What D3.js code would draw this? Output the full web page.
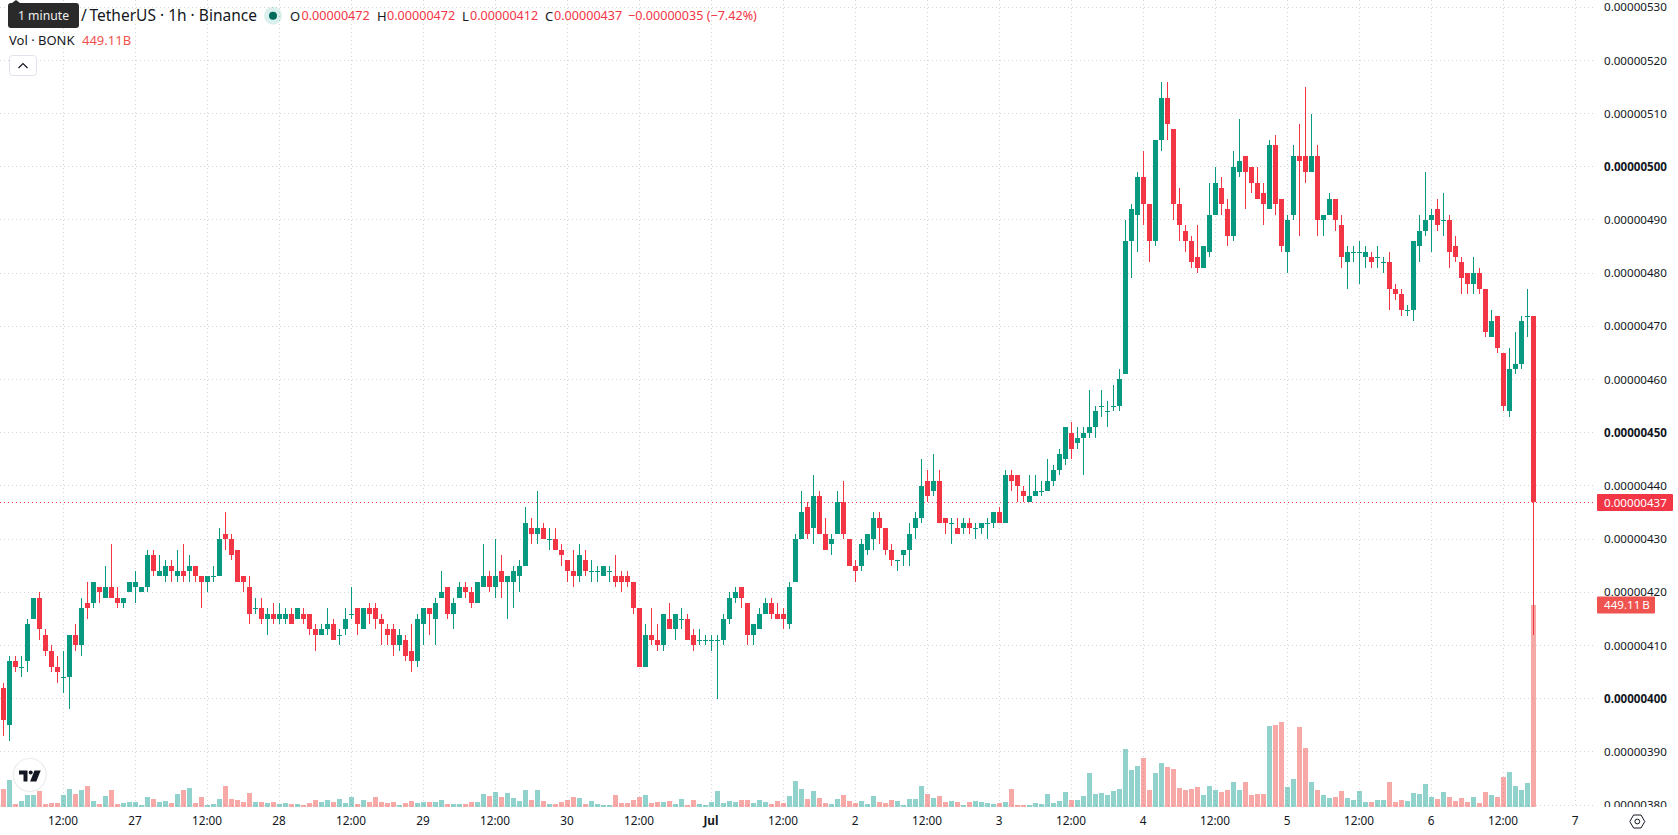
<!DOCTYPE html>
<html>
<head>
<meta charset="utf-8">
<title>BONK / TetherUS 1h</title>
<script src="https://cdn.jsdelivr.net/npm/d3@7/dist/d3.min.js"></script>
<style>
  html, body { margin: 0; padding: 0; background: #fff; overflow: hidden; }
  svg { display: block; }
  text { font-family: "Noto Sans", "Open Sans", sans-serif; }
</style>
</head>
<body>
<svg id="chart" width="1678" height="835"></svg>
<script>
// Hourly candles, prices in units of 0.00000001, volume in billions of BONK.
const opens = [402,395,407,406,407,415,419,412,409,406,404,404,412,410,418,418,421,419,421,419,418,420,421,420,421,427,423,423,425,423,424,424,425,423,422,423,423,431,430,428,423,421,417,417,415,416,415,415,416,415,416,416,413,412,413,414,412,413,416,417,413,417,417,415,413,413,410,411,409,407,414,417,415,419,421,416,419,421,420,418,421,423,421,424,422,422,423,425,432,431,432,430,430,428,426,424,423,426,424,424,423,424,423,423,423,422,417,406,412,411,410,415,413,415,415,412,411,411,411,411,411,415,419,421,418,412,413,416,418,416,416,414,422,430,436,432,438,431,429,431,437,430,425,425,428,430,434,432,428,426,427,428,432,434,441,439,441,434,433,432,432,433,432,432,433,433,435,433,442,442,439,437,438,439,439,441,443,445,450,448,449,450,451,455,454,455,455,461,486,491,498,493,486,505,513,507,493,488,486,483,481,484,491,496,492,487,499,502,500,497,495,492,504,494,484,491,502,502,499,502,490,491,494,489,482,484,484,483,483,483,482,482,477,476,473,473,485,488,490,492,490,490,485,482,480,478,480,477,468,472,465,454,462,463,472,472];
const highs = [403,408,408,408,415,419,420,413,410,408,409,412,414,419,422,422,421,425,429,421,419,422,424,421,428,428,427,426,426,428,429,427,425,423,423,425,432,435,431,428,423,423,419,419,417,418,418,417,417,417,417,416,414,414,417,415,413,417,421,417,417,418,418,416,414,414,413,412,414,416,417,417,419,424,421,419,422,422,421,422,429,424,430,427,423,425,426,436,434,439,433,432,432,429,426,428,429,428,426,425,425,425,427,424,424,422,417,414,417,414,416,418,416,417,416,413,413,412,412,412,416,420,421,421,418,414,417,419,419,418,417,422,431,439,437,442,439,434,431,439,441,430,426,430,431,435,435,432,429,426,428,433,435,445,443,446,443,434,434,434,434,434,433,433,434,435,436,443,443,442,440,442,442,441,445,444,447,451,452,451,451,458,455,458,456,459,462,490,493,499,503,493,505,516,516,507,496,489,487,489,485,497,500,498,494,503,509,502,500,500,497,505,506,494,491,504,508,515,510,504,491,495,494,491,485,485,486,485,484,485,483,484,478,477,474,486,491,499,492,494,495,491,487,483,480,483,481,477,473,472,465,466,469,472,477,472];
const lows = [393,392,405,404,405,415,411,408,405,403,401,398,409,408,415,417,418,419,419,417,417,420,418,420,420,423,423,422,422,422,422,422,422,417,420,422,423,428,426,422,420,414,416,414,412,414,414,414,414,415,414,412,409,412,412,411,410,412,415,412,413,414,413,410,410,408,409,407,405,406,410,412,410,419,415,413,419,419,417,418,421,420,419,419,415,417,420,425,429,429,430,428,428,425,422,421,422,423,422,422,423,422,421,420,421,416,406,406,410,409,409,413,411,413,411,409,410,410,409,400,410,414,418,417,410,410,413,416,415,415,413,413,422,430,430,429,431,428,427,431,430,425,422,424,427,428,429,427,425,424,425,425,430,433,437,438,433,431,429,431,431,431,430,431,430,432,433,433,439,437,437,437,438,438,439,440,442,444,445,447,442,449,449,453,451,454,454,461,479,484,489,482,485,503,505,490,486,484,481,480,481,483,491,491,485,486,498,492,495,494,489,492,491,484,480,490,487,497,499,487,487,491,488,481,477,482,478,481,481,481,480,473,475,472,472,471,482,487,484,488,487,481,482,476,476,476,476,468,468,465,454,453,461,462,468,412];
const closes = [396,407,406,406,414,419,413,409,406,405,404,412,410,417,417,422,420,421,419,418,419,422,422,421,427,424,424,425,424,424,423,425,423,422,423,423,430,430,427,422,422,416,417,415,416,415,416,416,414,417,415,413,412,413,414,411,412,415,416,414,417,416,415,414,412,410,412,408,407,415,417,416,418,420,416,418,421,420,418,422,423,421,423,422,423,424,425,433,431,432,430,430,428,427,424,423,427,424,424,424,425,424,422,422,422,417,406,412,411,410,416,413,416,415,411,410,411,411,411,411,415,419,420,419,412,414,416,418,416,415,415,421,430,435,431,438,431,428,430,437,431,425,424,429,431,434,432,428,426,426,428,431,434,440,438,441,433,433,433,431,433,432,432,433,433,435,433,442,441,440,438,438,439,439,441,443,446,451,447,449,450,451,454,455,454,455,460,486,492,498,493,486,505,513,508,493,489,486,482,481,485,491,497,493,487,500,501,499,497,494,493,504,493,485,490,502,501,499,502,490,491,494,490,483,484,484,484,484,482,483,482,477,476,473,473,486,488,490,491,489,490,484,483,479,478,480,477,469,471,466,455,462,463,471,472,437];
const volumes = [40,60,6.7,13.3,26.7,26.7,35.6,6.7,8.9,8.9,26.7,40,28.9,37.8,46.7,13.3,6.7,24.5,37.8,6.7,8.9,11.1,11.1,4.4,22.2,17.8,11.1,13.3,8.9,28.9,37.8,42.2,8.9,22.2,4.4,6.7,17.8,46.7,17.8,15.6,11.1,31.1,11.1,11.1,8.9,11.1,6.7,8.9,6.7,6.7,4.4,8.9,15.6,11.1,15.6,11.1,17.8,8.9,22.2,6.7,15.6,11.1,22.2,11.1,8.9,11.1,4.4,8.9,13.3,8.9,11.1,11.1,11.1,15.6,6.7,6.7,6.7,6.7,11.1,11.1,28.9,24.5,33.3,22.2,31.1,20,13.3,37.8,15.6,37.8,13.3,6.7,6.7,11.1,15.6,22.2,20,6.7,13.3,6.7,4.4,4.4,26.7,8.9,8.9,15.6,22.2,26.7,8.9,11.1,11.1,13.3,6.7,17.8,4.4,15.6,6.7,4.4,11.1,35.6,8.9,13.3,11.1,15.6,15.6,8.9,15.6,11.1,6.7,13.3,8.9,24.5,57.8,40,17.8,35.6,20,8.9,6.7,17.8,26.7,13.3,8.9,13.3,6.7,24.5,11.1,8.9,15.6,13.3,4.4,17.8,17.8,46.7,28.9,20,24.5,11.1,13.3,11.1,4.4,11.1,13.3,11.1,8.9,6.7,8.9,11.1,40,4.4,4.4,4.4,8.9,6.7,28.9,8.9,13.3,33.3,15.6,15.6,24.5,75.6,28.9,31.1,26.7,35.6,40,129,82.3,91.2,109,37.8,75.6,97.9,89,84.5,42.2,37.8,40,44.5,26.7,46.7,37.8,33.3,37.8,55.6,37.8,55.6,26.7,28.9,28.9,180.1,182.4,189,44.5,62.3,178,131.2,55.6,37.8,26.7,20,22.2,35.6,20,15.6,35.6,11.1,11.1,15.6,15.6,55.6,11.1,15.6,13.3,31.1,28.9,51,22.2,17.8,33.3,22.2,13.3,20,11.1,22.2,8.9,33.3,26.7,22.2,66.7,77.8,46.7,37.8,53.4,449.11];

const priceTicks = [380,390,400,410,420,430,440,450,460,470,480,490,500,510,520,530];
const boldPriceTicks = [400,450,500];
const timeTickLabels = ["12:00","27","12:00","28","12:00","29","12:00","30","12:00","Jul","12:00","2","12:00","3","12:00","4","12:00","5","12:00","6","12:00","7"];

const UP = "#089981", DOWN = "#F23645";
const UP_VOL = "#26a69a", DOWN_VOL = "#EF5350";
const GRID = "#d4d4d4", TEXT = "#131722";

const firstHour = new Date(Date.UTC(2024, 5, 26, 2));
const hourAt = i => d3.utcHour.offset(firstHour, i);
const lastIdx = closes.length - 1;
const firstTick = new Date(Date.UTC(2024, 5, 26, 12));
const timeTicks = timeTickLabels.map((_, k) => d3.utcHour.offset(firstTick, k * 12));

const x = d3.scaleUtc().domain([hourAt(0), hourAt(lastIdx)]).range([3.5, 1533.5]);
const y = d3.scaleLinear().domain([380, 500]).range([805, 166.7]);
const yVol = d3.scaleLinear().domain([0, 449.11]).range([807, 605]);

const fmtPrice = p => (p / 1e8).toFixed(8);
const svg = d3.select("#chart");
const defs = svg.append("defs");
defs.append("clipPath").attr("id", "plot-h").append("rect")
  .attr("x", 0).attr("y", 0).attr("width", 1678).attr("height", 807);

// Dotted grid
const grid = svg.append("g").attr("stroke", GRID).attr("stroke-dasharray", "1 3").attr("shape-rendering", "crispEdges");
grid.selectAll("line.h").data(priceTicks).join("line").attr("class", "h")
  .attr("x1", 0).attr("x2", 1593)
  .attr("y1", d => Math.floor(y(d)) + 0.5).attr("y2", d => Math.floor(y(d)) + 0.5);
grid.selectAll("line.v").data(timeTicks).join("line").attr("class", "v")
  .attr("y1", 0).attr("y2", 807)
  .attr("x1", d => Math.floor(x(d)) + 0.5).attr("x2", d => Math.floor(x(d)) + 0.5);

const idx = d3.range(closes.length);
const isUp = i => closes[i] >= opens[i];

// Volume histogram along the bottom of the pane
svg.append("g").attr("shape-rendering", "crispEdges").selectAll("rect").data(idx).join("rect")
  .attr("x", i => Math.floor(x(hourAt(i))) - 2)
  .attr("width", 5)
  .attr("y", i => Math.round(yVol(volumes[i])))
  .attr("height", i => 807 - Math.round(yVol(volumes[i])))
  .attr("fill", i => isUp(i) ? UP_VOL : DOWN_VOL)
  .attr("fill-opacity", 0.5);

// Last price line
svg.append("line").attr("x1", 0).attr("x2", 1593)
  .attr("y1", Math.round(y(closes[lastIdx])) + 0.5).attr("y2", Math.round(y(closes[lastIdx])) + 0.5)
  .attr("stroke", DOWN).attr("stroke-dasharray", "1 3").attr("shape-rendering", "crispEdges");

// Candles: one pixel wick and a five pixel body
const candles = svg.append("g").attr("shape-rendering", "crispEdges");
candles.selectAll("rect.wick").data(idx).join("rect").attr("class", "wick")
  .attr("x", i => Math.floor(x(hourAt(i))))
  .attr("width", 1)
  .attr("y", i => Math.round(y(highs[i])))
  .attr("height", i => Math.max(1, Math.round(y(lows[i])) - Math.round(y(highs[i]))))
  .attr("fill", i => isUp(i) ? UP : DOWN);
candles.selectAll("rect.body").data(idx).join("rect").attr("class", "body")
  .attr("x", i => Math.floor(x(hourAt(i))) - 2)
  .attr("width", 5)
  .attr("y", i => Math.round(y(Math.max(opens[i], closes[i]))))
  .attr("height", i => Math.max(1, Math.round(y(Math.min(opens[i], closes[i]))) - Math.round(y(Math.max(opens[i], closes[i])))))
  .attr("fill", i => isUp(i) ? UP : DOWN);

// Price axis
const priceAxis = svg.append("g").attr("transform", "translate(1604,0)").attr("clip-path", "url(#plot-h)")
  .call(d3.axisRight(y).tickValues(priceTicks).tickSize(0).tickPadding(0).tickFormat(fmtPrice));
priceAxis.select(".domain").remove();
priceAxis.selectAll("text")
  .attr("font-size", 11.6).attr("fill", TEXT)
  .attr("font-family", "'Noto Sans', sans-serif")
  .attr("font-weight", d => boldPriceTicks.includes(d) ? 700 : 400);

// Time axis
const timeAxis = svg.append("g").attr("transform", "translate(-1,816.5)")
  .call(d3.axisBottom(x).tickValues(timeTicks).tickSize(0).tickPadding(0)
    .tickFormat((d, k) => timeTickLabels[k]));
timeAxis.select(".domain").remove();
timeAxis.selectAll("text")
  .attr("font-size", 11.8).attr("fill", TEXT)
  .attr("font-family", "'Noto Sans', sans-serif")
  .attr("font-weight", (d, k) => timeTickLabels[k] === "Jul" ? 700 : 400);

// Last price and last volume tags
const tag = (xPos, yMid, w, fill, label) => {
  svg.append("rect").attr("x", xPos).attr("y", yMid - 8.5).attr("width", w).attr("height", 17)
    .attr("rx", 1).attr("fill", fill);
  svg.append("text").attr("x", xPos + 7).attr("y", yMid).attr("dy", "0.35em")
    .attr("font-size", 11.6).attr("fill", "#fff").text(label);
};
tag(1597, Math.round(y(closes[lastIdx])) + 0.5, 76, DOWN, fmtPrice(closes[lastIdx]));
tag(1597, Math.round(yVol(volumes[lastIdx])), 58, "#EF5350", volumes[lastIdx].toFixed(2) + "\u2009B");

// Legend
const legend = svg.append("g");
const put = (xPos, yPos, str, size, fill, weight) => legend.append("text")
  .attr("x", xPos).attr("y", yPos).attr("dy", "0.35em").attr("font-size", size)
  .attr("fill", fill).attr("font-weight", weight || 400).text(str);

put(81, 16, "/", 15.5, TEXT);
put(89.5, 16, "TetherUS \u00b7 1h \u00b7 Binance", 15.5, TEXT);
legend.append("circle").attr("cx", 273).attr("cy", 15.7).attr("r", 9).attr("fill", UP).attr("fill-opacity", 0.15);
legend.append("circle").attr("cx", 273).attr("cy", 15.7).attr("r", 4).attr("fill", "#006b5b");

const ohlc = [["O", 290, 301.5, opens[lastIdx]], ["H", 377, 387, highs[lastIdx]], ["L", 462, 470, lows[lastIdx]], ["C", 545, 554, closes[lastIdx]]];
ohlc.forEach(([k, kx, vx, v]) => {
  put(kx, 16, k, 13, TEXT);
  put(vx, 16, fmtPrice(v), 12.6, DOWN);
});
const change = closes[lastIdx] - opens[lastIdx];
const pct = change / opens[lastIdx] * 100;
put(628, 16, "\u2212" + fmtPrice(Math.abs(change)) + " (\u2212" + Math.abs(pct).toFixed(2) + "%)", 12.6, DOWN);

put(9, 40, "Vol \u00b7 BONK", 13, TEXT);
put(82, 40, volumes[lastIdx].toFixed(2) + "B", 13, "#EF5350");

// Collapse button
legend.append("rect").attr("x", 9.5).attr("y", 55.5).attr("width", 27).attr("height", 20).attr("rx", 3)
  .attr("fill", "#fff").attr("stroke", "#e0e3eb");
legend.append("path").attr("d", "M18.5 68l4.5-4.5 4.5 4.5").attr("fill", "none").attr("stroke", TEXT).attr("stroke-width", 1.2);

// Hover hint over the symbol name
legend.append("path").attr("d", "M12 3l4-3 4 3z").attr("fill", "#2a2a2a");
legend.append("rect").attr("x", 8).attr("y", 3).attr("width", 71).attr("height", 25).attr("rx", 3).attr("fill", "#2a2a2a");
put(43.5, 15.5, "1 minute", 12.2, "#f0f0f0").attr("text-anchor", "middle");

// Watermark badge
const badge = svg.append("g").attr("transform", "translate(0,745)");
badge.append("circle").attr("cx", 29.7).attr("cy", 30).attr("r", 16.5).attr("fill", "#fff").attr("stroke", "#ececec").attr("stroke-width", 1.2);
badge.append("path").attr("d", "M19 25.5h8.5v11h-4v-7H19z").attr("fill", "#131722");
badge.append("circle").attr("cx", 30.7).attr("cy", 27.5).attr("r", 2).attr("fill", "#131722");
badge.append("path").attr("d", "M34.5 25.5h6.2l-4.4 11h-6.2z").attr("fill", "#131722");

// Settings icon
const gear = svg.append("g").attr("transform", "translate(1637.3,821.5)").attr("fill", "none").attr("stroke", TEXT).attr("stroke-width", 1);
gear.append("path").attr("d", "M-7.5 0L-3.7-6.5H3.7L7.5 0L3.7 6.5H-3.7Z");
gear.append("circle").attr("r", 2.4);
</script>
</body>
</html>
